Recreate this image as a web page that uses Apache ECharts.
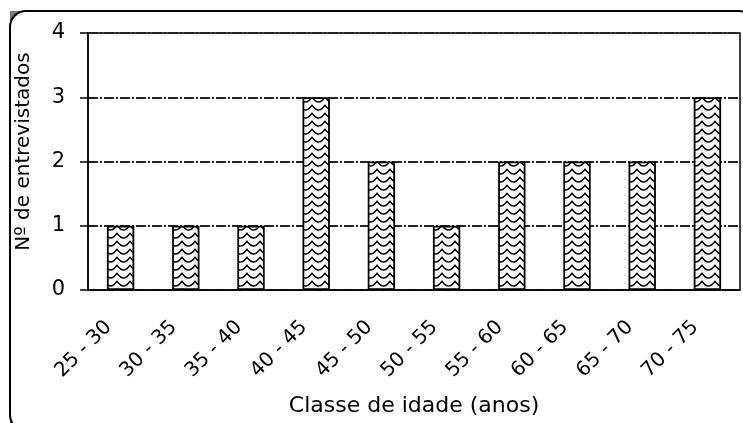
<!DOCTYPE html>
<html>
<head>
<meta charset="utf-8">
<script src="https://cdn.jsdelivr.net/npm/echarts@6/dist/echarts.min.js"></script>
<style>
html,body{margin:0;padding:0;background:#fff;}
#chart{width:743px;height:423px;}
</style>
</head>
<body>
<div id="chart"></div>
<script>
const categories = ["25 - 30","30 - 35","35 - 40","40 - 45","45 - 50","50 - 55","55 - 60","60 - 65","65 - 70","70 - 75"];
const counts = [1,1,1,3,2,1,2,2,2,3];
const yTicks = [0,1,2,3,4];
const xName = "Classe de idade (anos)";
const yName = "Nº de entrevistados";

// wavy hatch pattern
const tile = document.createElement('canvas');
tile.width = 13; tile.height = 8;
const c = tile.getContext('2d');
c.fillStyle = '#fff';
c.fillRect(0,0,13,8);
c.strokeStyle = '#000';
c.lineWidth = 1.5;
c.lineJoin = 'round';
c.beginPath();
c.moveTo(-6.5,6);
c.quadraticCurveTo(-3.2,6,0,1.2);
c.quadraticCurveTo(3.2,6,6.5,6);
c.quadraticCurveTo(9.8,6,13,1.2);
c.quadraticCurveTo(16.2,6,19.5,6);
c.stroke();

const font = 'DejaVu Sans';
const chart = echarts.init(document.getElementById('chart'));
chart.setOption({
  backgroundColor: '#fff',
  animation: false,
  graphic: [
    {type:'rect', z:-10, shape:{x:10,y:11,width:745,height:420}, style:{fill:'#7a7a7a'}},
    {type:'rect', z:-9, shape:{x:10,y:11,width:745,height:420,r:16}, style:{fill:'#fff',stroke:'#000',lineWidth:2}}
  ],
  grid: {left:88, top:33, right:3, bottom:133, show:true, borderColor:'#000', borderWidth:1.5, backgroundColor:'transparent'},
  xAxis: {
    type:'category', data:categories,
    name:xName, nameLocation:'middle', nameGap:105,
    nameTextStyle:{fontFamily:font, fontSize:22, color:'#000'},
    axisLine:{lineStyle:{color:'#000', width:1.5}},
    axisTick:{alignWithLabel:false, length:8, lineStyle:{color:'#000', width:1.5}},
    axisLabel:{rotate:45, margin:22, padding:[0,17,0,0], fontFamily:font, fontSize:20, color:'#000', interval:0}
  },
  yAxis: {
    type:'value', min:yTicks[0], max:yTicks[yTicks.length-1], interval:1,
    name:yName, nameLocation:'middle', nameGap:54,
    nameTextStyle:{fontFamily:font, fontSize:20, color:'#000', padding:[0,0,0,20]},
    axisLine:{show:true, lineStyle:{color:'#000', width:1.5}},
    axisTick:{show:true, length:8, lineStyle:{color:'#000', width:1.5}},
    axisLabel:{margin:23, fontFamily:font, fontSize:21, color:'#000'},
    splitLine:{show:true, lineStyle:{color:'#222', width:2, type:[10,2,2,2]}}
  },
  series: [{
    type:'bar', data:counts, barWidth:'42%',
    itemStyle:{color:{image:tile, repeat:'repeat'}, borderColor:'#000', borderWidth:1.8}
  }]
});
</script>
</body>
</html>
